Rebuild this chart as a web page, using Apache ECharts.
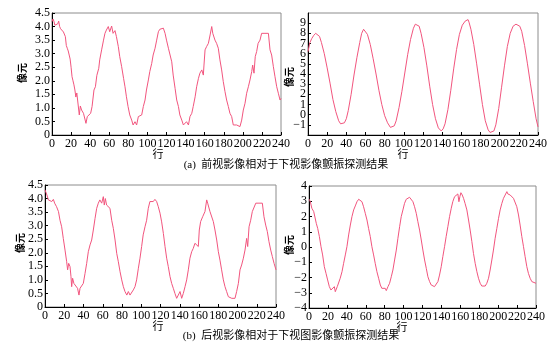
<!DOCTYPE html>
<html>
<head>
<meta charset="utf-8">
<script src="https://cdn.jsdelivr.net/npm/echarts@6/dist/echarts.min.js"></script>
<style>
  html, body { margin: 0; padding: 0; background: #fff; }
  #chart { width: 557px; height: 354px; }
</style>
</head>
<body>
<div id="chart"></div>
<script>
// 颤振探测结果 —— [行, 像元]
const frontLeft = [
  [0,4.18],[1,4.28],[2,4.2],[3,4.05],[4,4.12],[5,3.98],[6,4.1],[7,4.2],[8,4.0],[9,3.92],[10,3.95],
  [11,3.87],[12,3.8],[14,3.63],[15,3.3],[16,3.2],[17,3.1],[18,2.95],[19,2.8],[20,2.5],[21,2.15],
  [22,2.0],[23,1.85],[24,1.66],[25,1.4],[26,1.55],[27,1.6],[28,1.5],[28.6,0.74],[29.7,1.07],[31,0.92],
  [33,0.8],[34.5,0.74],[35.6,0.43],[37,0.68],[39,0.74],[40.5,0.8],[42,1.05],[44,1.66],[45.5,1.78],
  [47,2.2],[49,2.46],[50,2.77],[52,3.14],[54,3.5],[55.5,3.75],[57,3.87],[59,4.0],[60.5,3.81],
  [62.5,4.02],[64,3.75],[66,3.85],[67.5,3.63],[69.5,3.26],[71,2.89],[73,2.52],[75,2.09],[76.5,1.78],
  [78,1.41],[79.7,1.05],[81.5,0.74],[83.5,0.55],[85,0.37],[87,0.49],[88.7,0.37],[90.5,0.68],[92,0.62],
  [94,0.74],[95.7,1.05],[97.5,1.29],[99,1.66],[101,2.03],[102.5,2.34],[104.5,2.64],[106,2.95],[108,3.2],
  [109.7,3.5],[111.5,3.81],[113,3.9],[115,3.87],[116.7,3.94],[118.5,3.75],[120,3.5],[122,3.2],
  [123.7,3.14],[125.5,2.7],[127,2.21],[129,1.72],[130.7,1.29],[132.5,1.05],[134,0.74],[136,0.55],
  [137.7,0.37],[139.5,0.31],[141,0.49],[143,0.37],[144.6,0.68],[146.5,0.8],[148,1.05],[150,1.41],
  [151.6,1.78],[153.5,2.09],[155,2.28],[157,2.4],[158.6,2.21],[159.3,2.58],[160.4,3.14],[162,3.26],
  [163.9,3.38],[165.7,3.69],[167.4,4.0],[168.5,3.75],[170.8,3.5],[172.5,3.38],[174.3,3.2],[176,2.77],
  [177.8,2.4],[179.5,1.97],[181.3,1.6],[183,1.29],[184.8,1.05],[186.5,0.8],[188.3,0.68],[190,0.37],
  [191.8,0.43],[193.5,0.37],[195.3,0.43],[197,0.31],[198.8,0.55],[200.5,0.92],[202.3,1.17],[204,1.54],
  [205.8,1.78],[207.5,2.03],[209.3,2.34],[210.3,2.58],[211.7,2.28],[213,2.89],[214.5,3.08],[216,3.38],
  [218,3.5],[219.7,3.75],[221.5,3.69],[223.2,3.75],[225,3.69],[226.8,3.75],[228.5,3.14],[230.2,2.95],
  [232,2.52],[233.7,2.15],[235.5,1.78],[237.2,1.54],[239,1.29],[240,1.35]
]
const frontRight = [
  [0,6.2],[2,7.1],[4,7.5],[6,7.8],[8,8.0],[9,7.85],[10,8.0],[12,7.7],[14,7.1],[17,6.0],[20,4.6],
  [23,3.1],[26,1.5],[29,0.3],[32,-0.6],[34,-0.9],[36,-1.0],[38,-0.8],[40,-0.4],[42,0.4],[45,2.0],
  [48,3.9],[51,5.6],[54,7.1],[56,8.0],[58,8.4],[60,8.3],[62,7.9],[65,6.9],[68,5.5],[71,4.0],[74,2.4],
  [77,1.0],[80,-0.1],[83,-0.8],[86,-1.25],[88,-1.3],[90,-1.1],[92,-0.6],[95,0.7],[98,2.3],[101,4.1],
  [104,5.9],[107,7.4],[110,8.5],[112,8.9],[114,8.95],[116,8.7],[118,8.0],[121,6.6],[124,4.8],
  [127,2.8],[130,1.0],[133,-0.4],[136,-1.3],[139,-1.6],[141,-1.4],[143,-0.9],[146,0.5],[149,2.4],
  [152,4.5],[155,6.4],[158,7.9],[161,8.8],[164,9.2],[166,9.3],[167,9.35],[168,9.1],[170,8.4],
  [173,6.9],[176,5.0],[179,3.0],[182,1.0],[185,-0.6],[188,-1.5],[190,-1.75],[192,-1.8],[194,-1.6],
  [196,-1.0],[199,0.6],[202,2.7],[205,4.8],[208,6.7],[211,8.0],[214,8.7],[217,8.9],[219,8.95],
  [221,8.7],[223,8.2],[226,6.8],[229,5.0],[232,3.1],[235,1.3],[238,-0.4],[240,-1.2]
]
const backLeft = [
  [0,4.32],[2,4.13],[3.5,3.95],[5,4.0],[7,3.89],[8.7,3.97],[10,3.83],[12,3.7],[14,3.52],[15.6,3.2],
  [17.3,2.96],[19,2.53],[20.8,2.1],[22.5,1.67],[23.5,1.37],[24.6,1.61],[26,1.49],[27,1.12],[27.7,0.75],
  [28.7,1.06],[30,0.87],[32,0.81],[33.8,0.69],[35.3,0.44],[36.4,0.69],[38,0.69],[39.8,0.87],
  [41.6,1.24],[43.3,1.61],[45,2.04],[46.8,2.29],[48.5,2.47],[50.2,2.84],[52,3.27],[53.7,3.64],
  [55.4,3.83],[57,3.95],[58.9,3.83],[60.6,4.07],[61.6,3.76],[62.7,4.0],[64,3.76],[65.8,3.83],
  [67.5,3.64],[69.3,3.2],[71,2.9],[72.8,2.47],[74.5,1.98],[76.2,1.67],[78,1.3],[79.7,1.0],[81.4,0.75],
  [83.1,0.57],[85,0.44],[86.6,0.57],[88.3,0.44],[90,0.38],[91.8,0.63],[93.5,0.75],[95.2,1.0],
  [97,1.43],[98.7,1.8],[100.4,2.23],[102,2.66],[103.9,2.96],[105.6,3.2],[107.3,3.64],[109,3.89],
  [110.8,3.95],[112.5,3.89],[114.2,3.97],[116,3.89],[117.7,3.7],[119.5,3.46],[121.2,3.14],[123,2.71],
  [124.7,2.23],[126.4,1.8],[128.1,1.49],[129.9,1.12],[131.6,0.87],[133.3,0.69],[135,0.5],[136.8,0.32],
  [138.5,0.44],[140.3,0.57],[142,0.32],[143.7,0.5],[145.5,0.75],[147.2,1.0],[148.9,1.37],[150.6,1.8],
  [152.4,2.04],[154,2.16],[155.8,2.35],[157.6,2.41],[159.3,2.23],[160.3,2.84],[161.7,3.15],[163.8,3.33],
  [166.2,3.52],[168,3.95],[169,3.83],[171.4,3.52],[173.2,3.46],[174.9,3.15],[176.6,2.84],[178.4,2.47],
  [180.1,2.04],[181.8,1.73],[183.5,1.37],[185.3,1.0],[187,0.75],[188.7,0.57],[190.5,0.38],[192.2,0.4],
  [194,0.32],[195.7,0.38],[197.4,0.32],[199.1,0.57],[200.9,0.87],[202.6,1.37],[204.3,1.55],
  [206.1,1.8],[207.8,2.1],[209.5,2.53],[210.6,2.23],[212,2.96],[213.7,3.2],[215.4,3.52],[217.2,3.58],
  [219,3.83],[220.6,3.76],[222.3,3.83],[224,3.76],[225.8,3.83],[227.5,3.33],[229.3,3.02],[231,2.78],
  [232.7,2.41],[234.5,2.1],[236.2,1.86],[238,1.61],[240,1.37]
]
const backRight = [
  [0.3,3.13],[1.4,2.97],[3,2.54],[5,2.32],[6,2.2],[7.7,1.55],[9.2,1.22],[11,0.68],[12.7,0.02],
  [14.4,-0.52],[16.2,-1.29],[18,-1.73],[19.7,-2.16],[21.5,-2.6],[23.2,-2.82],[25,-2.71],[26.8,-2.6],
  [27.8,-2.93],[28.9,-3.04],[29.9,-2.6],[31.3,-2.49],[33,-2.05],[34.9,-1.62],[36.6,-1.07],[38.4,-0.52],
  [40.1,0.02],[41.9,0.79],[43.7,1.44],[45.4,1.99],[47.2,2.43],[48.2,2.47],[49.3,2.75],[50.7,2.97],
  [52.5,3.13],[54.2,3.04],[56,2.97],[57.7,2.64],[59.5,2.21],[61.3,1.77],[63,1.22],[64.8,0.68],
  [66.5,0.02],[68.3,-0.52],[70,-1.07],[71.8,-1.62],[73.6,-2.05],[75.4,-2.49],[77,-2.71],[78.9,-2.82],
  [80.6,-2.71],[81.7,-2.86],[83.5,-2.6],[85.2,-2.38],[87,-1.95],[88.7,-1.51],[90.5,-0.85],[92.3,-0.2],
  [94,0.57],[95.8,1.33],[97.5,1.99],[99.3,2.43],[101,2.86],[102.8,3.13],[104.6,3.23],[106.3,3.26],
  [108,3.19],[109.9,2.97],[111.6,2.64],[113.4,2.21],[115.1,1.66],[116.9,1.11],[118.7,0.46],[120.4,-0.2],
  [122.2,-0.85],[124,-1.4],[125.7,-1.95],[127.5,-2.27],[129.2,-2.49],[131,-2.6],[132.7,-2.6],
  [134.5,-2.49],[136.3,-2.27],[138,-1.84],[139.8,-1.29],[141.5,-0.63],[143.3,0.02],[145,0.68],
  [146.8,1.33],[148.6,1.99],[150.4,2.54],[152,2.97],[153.9,3.3],[155.6,3.41],[157.4,3.48],[158.5,2.97],
  [159.5,3.3],[160.6,3.56],[162,3.41],[163.4,3.19],[165,2.86],[166.9,2.43],[168.7,1.77],[170.4,1.11],
  [172.2,0.35],[173.9,-0.42],[175.7,-1.07],[177.5,-1.62],[179.2,-2.05],[181,-2.38],[182.7,-2.56],
  [184.5,-2.6],[186.3,-2.56],[188,-2.38],[189.8,-2.05],[191.5,-1.51],[193.3,-0.85],[195,-0.2],
  [196.8,0.57],[198.6,1.22],[200.4,1.88],[202.1,2.43],[203.9,2.86],[205.6,3.19],[207.4,3.41],
  [209.2,3.63],[210.2,3.48],[211.6,3.56],[212.7,3.41],[214.4,3.52],[216.2,3.19],[218,3.08],[219.7,2.64],
  [221.5,2.1],[223.2,1.44],[225,0.68],[226.8,0.02],[228.5,-0.63],[230.3,-1.29],[232,-1.73],
  [233.8,-2.05],[235.6,-2.27],[237.3,-2.34],[240,-2.38]
]

const rowTicks = { min: 0, max: 240, interval: 20 }
const yRanges = [
  { min: 0, max: 4.5, interval: 0.5 },
  { min: -2, max: 10, interval: 1 },
  { min: 0, max: 4.5, interval: 0.5 },
  { min: -4, max: 4, interval: 1 }
]
const captions = ['(a)  前视影像相对于下视影像颤振探测结果', '(b)  后视影像相对于下视图影像颤振探测结果']

const serif = '"Liberation Serif", "Times New Roman", serif'
const cjk = '"Liberation Serif", "Noto Sans CJK SC", serif'
const lineColor = '#f2557e'

const chart = echarts.init(document.getElementById('chart'))

const grids = [
  { left: 52, top: 13, width: 229, height: 122 },
  { left: 308, top: 13, width: 230, height: 122 },
  { left: 45, top: 185, width: 231, height: 122 },
  { left: 309, top: 186, width: 227, height: 122 }
]

function fmtY (i) {
  return function (v) {
    if (i === 0 || i === 2) return v === 0 ? '0' : v.toFixed(1)
    return String(v).replace('-', '\u2212')
  }
}

const xAxes = grids.map((g, i) => ({
  gridIndex: i,
  type: 'value',
  min: rowTicks.min,
  max: rowTicks.max,
  interval: rowTicks.interval,
  axisLine: { onZero: false, lineStyle: { color: '#000', width: 1 } },
  axisTick: { inside: true, length: 3, lineStyle: { color: '#000' } },
  axisLabel: { margin: 3, color: '#000', fontSize: 12, fontFamily: serif, showMaxLabel: true },
  splitLine: { show: false }
}))

const yAxes = grids.map((g, i) => ({
  gridIndex: i,
  type: 'value',
  min: yRanges[i].min,
  max: yRanges[i].max,
  interval: yRanges[i].interval,
  axisLine: { onZero: false, lineStyle: { color: '#000', width: 1 } },
  axisTick: { inside: true, length: 3, lineStyle: { color: '#000' } },
  axisLabel: { margin: 2, color: '#000', fontSize: 12, fontFamily: serif, formatter: fmtY(i) },
  splitLine: { show: false }
}))

const dataSets = [frontLeft, frontRight, backLeft, backRight]
const series = dataSets.map((d, i) => ({
  type: 'line',
  xAxisIndex: i,
  yAxisIndex: i,
  data: d,
  showSymbol: false,
  silent: true,
  lineStyle: { color: lineColor, width: 1 },
  animation: false
}))

// 坐标轴名称与图注
const txt = (text, x, y, size, rot, weight) => ({
  type: 'text',
  x: x,
  y: y,
  rotation: rot || 0,
  style: {
    text: text,
    font: (weight || 'normal') + ' ' + size + 'px ' + cjk,
    fill: '#000',
    align: 'center',
    verticalAlign: 'middle'
  }
})

const option = {
  animation: false,
  backgroundColor: '#fff',
  grid: grids.map(g => Object.assign({ show: true, borderColor: '#8c8c8c', borderWidth: 1 }, g)),
  xAxis: xAxes,
  yAxis: yAxes,
  series: series,
  graphic: [
    txt('像元', 23, 73, 10, Math.PI / 2, 'bold'),
    txt('像元', 290, 77, 10, Math.PI / 2, 'bold'),
    txt('像元', 21, 243, 10, Math.PI / 2, 'bold'),
    txt('像元', 290, 245, 10, Math.PI / 2, 'bold'),
    txt('行', 158, 155, 11),
    txt('行', 403, 155, 11),
    txt('行', 158, 327, 11),
    txt('行', 402, 328, 11),
    txt(captions[0], 286, 165, 11),
    txt(captions[1], 291, 336, 11)
  ]
}

chart.setOption(option)
</script>
</body>
</html>
